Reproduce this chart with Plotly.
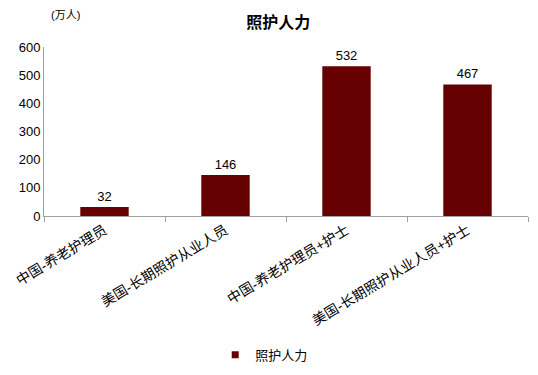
import plotly.graph_objects as go

categories = ["中国-养老护理员", "美国-长期照护从业人员", "中国-养老护理员+护士", "美国-长期照护从业人员+护士"]
values = [32, 146, 532, 467]
series_name = "照护人力"
y_ticks = [0, 100, 200, 300, 400, 500, 600]

FONT = "Liberation Sans, Arial, Noto Sans CJK SC, sans-serif"
BAR_COLOR = "#660000"

fig = go.Figure()
fig.add_trace(go.Bar(
    x=categories, y=values, name=series_name, showlegend=False,
    marker=dict(color=BAR_COLOR, line=dict(width=0)),
    text=[str(v) for v in values], textposition="outside",
    textfont=dict(size=13, color="#000000", family=FONT),
    cliponaxis=False,
))
# legend entry with a small square marker (like the reference)
fig.add_trace(go.Scatter(
    x=[None], y=[None], name=series_name, mode="markers",
    marker=dict(symbol="square", size=7, color=BAR_COLOR),
    showlegend=True,
))

# page body has an 8px margin; figure is sized/margined to compensate
fig.update_layout(
    width=530, height=367,
    margin=dict(l=36, r=10, t=39, b=159, autoexpand=False),
    paper_bgcolor="white", plot_bgcolor="white",
    font=dict(family=FONT, size=13, color="#000000"),
    bargap=0.6,
    title=dict(text="<b>照护人力</b>", x=0.51, xanchor="center", y=0.962, yanchor="middle",
               font=dict(size=16, family=FONT, color="#000000")),
    showlegend=True,
    legend=dict(orientation="h", x=0.455, xanchor="center", yref="container", y=0.055,
                yanchor="middle", font=dict(size=13, family=FONT), itemwidth=30),
    xaxis=dict(showline=True, linecolor="#A0A0A0", linewidth=1, ticks="outside",
               tickson="boundaries", ticklen=5, tickcolor="#A0A0A0", tickangle=-31,
               tickfont=dict(size=14, family=FONT), showgrid=False, automargin=False),
    yaxis=dict(range=[0, 600], tickvals=y_ticks, showline=True, linecolor="#A0A0A0",
               linewidth=1, ticks="", showgrid=False, zeroline=False, automargin=False,
               tickfont=dict(size=13, family=FONT)),
    annotations=[dict(text="(万人)", xref="paper", yref="paper", x=0.01, y=1.19,
                      xanchor="left", yanchor="middle", showarrow=False,
                      font=dict(size=11, family=FONT, color="#000000"))],
)

fig.write_html("out.html")
